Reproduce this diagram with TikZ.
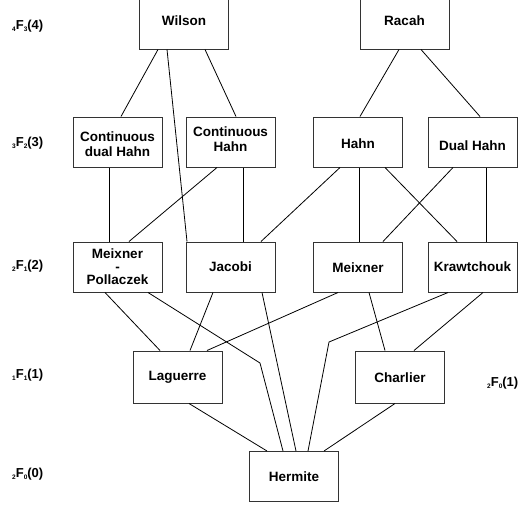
\documentclass[tikz,border=0pt]{standalone}
\usepackage{fontspec}
\setmainfont{Liberation Sans}
\begin{document}
\begin{tikzpicture}[x=1pt,y=-1pt,
  famb/.style={draw=black!80,line width=1pt,minimum width=89pt,minimum height=50pt,inner sep=0pt,align=center,
    font=\fontsize{13.5}{15}\selectfont\bfseries},
  topb/.style={famb,minimum height=56pt},
  lowb/.style={famb,minimum height=52pt},
  lvl/.style={anchor=west,inner sep=0pt,font=\fontsize{13}{13}\selectfont\bfseries},
  conn/.style={draw=black,line width=0.8pt}]
\newcommand{\subsc}[1]{\raisebox{-2pt}{\fontsize{6.5}{6.5}\selectfont #1}}
\newcommand{\twolines}[2]{\begin{tabular}{@{}c@{}}#1\\#2\end{tabular}}
\newcommand{\vshift}[2]{\raisebox{#1}[\height][\depth]{#2}}
\clip (0,0) rectangle (522,507);
\fill[white] (0,0) rectangle (522,507);
% boxes
\node[topb] (wilson) at (184,21) {Wilson};
\node[topb] (racah) at (404.5,21) {Racah};
\node[famb] (cdh) at (117.5,142) {\vshift{-4pt}{\twolines{Continuous}{dual Hahn}}};
\node[famb] (ch) at (230.5,142) {\vshift{1pt}{\twolines{Continuous}{Hahn}}};
\node[famb] (hahn) at (358,142) {\vshift{-2pt}{Hahn}};
\node[famb] (dhahn) at (472.5,142) {\vshift{-4pt}{Dual Hahn}};
\node[famb,font=\fontsize{13.5}{13}\selectfont\bfseries] (mp) at (117.5,267) {Meixner\\-\\Pollaczek};
\node[famb] (jacobi) at (230.5,267) {Jacobi};
\node[famb] (meixner) at (358,267) {\vshift{-1pt}{Meixner}};
\node[famb] (kraw) at (472.5,267) {Krawtchouk};
\node[lowb] (laguerre) at (177.5,377) {Laguerre};
\node[lowb] (charlier) at (400,377) {\vshift{-1pt}{Charlier}};
\node[famb] (hermite) at (294,476.5) {Hermite};
% level labels
\node[lvl] (l4) at (12,26) {\subsc{4}F\subsc{3}(4)};
\node[lvl] (l3) at (12,143) {\subsc{3}F\subsc{2}(3)};
\node[lvl] (l2) at (12,266) {\subsc{2}F\subsc{1}(2)};
\node[lvl] (l1) at (12,375) {\subsc{1}F\subsc{1}(1)};
\node[lvl] (l0) at (12,474) {\subsc{2}F\subsc{0}(0)};
\node[lvl] (l01) at (487,383) {\subsc{2}F\subsc{0}(1)};
% bend points
\coordinate (bendA) at (260,363);
\coordinate (bendB) at (329,342);
% connectors
\draw[conn] ([xshift=-26pt]wilson.south) -- ([xshift=3.5pt]cdh.north);
\draw[conn] ([xshift=-17pt]wilson.south) -- ([xshift=-43.5pt]jacobi.north);
\draw[conn] ([xshift=21pt]wilson.south) -- ([xshift=5.5pt]ch.north);
\draw[conn] ([xshift=-5.5pt]racah.south) -- ([xshift=2pt]hahn.north);
\draw[conn] ([xshift=16.5pt]racah.south) -- ([xshift=7.5pt]dhahn.north);
\draw[conn] ([xshift=-8.5pt]cdh.south) -- ([xshift=-8.5pt]mp.north);
\draw[conn] ([xshift=-13.5pt]ch.south) -- ([xshift=11.5pt]mp.north);
\draw[conn] ([xshift=12.5pt]ch.south) -- ([xshift=12.5pt]jacobi.north);
\draw[conn] ([xshift=-18pt]hahn.south) -- ([xshift=30.5pt]jacobi.north);
\draw[conn] ([xshift=1pt]hahn.south) -- ([xshift=1pt]meixner.north);
\draw[conn] ([xshift=27pt]hahn.south) -- ([xshift=-15.5pt]kraw.north);
\draw[conn] ([xshift=-19.5pt]dhahn.south) -- ([xshift=25pt]meixner.north);
\draw[conn] ([xshift=13.5pt]dhahn.south) -- ([xshift=13.5pt]kraw.north);
\draw[conn] ([xshift=-12.5pt]mp.south) -- ([xshift=-17.5pt]laguerre.north);
\draw[conn] ([xshift=30.5pt]mp.south) -- (bendA) -- ([xshift=-11pt]hermite.north);
\draw[conn] ([xshift=-17.5pt]jacobi.south) -- ([xshift=12.5pt]laguerre.north);
\draw[conn] ([xshift=31.5pt]jacobi.south) -- ([xshift=2pt]hermite.north);
\draw[conn] ([xshift=-20pt]meixner.south) -- ([xshift=29.5pt]laguerre.north);
\draw[conn] ([xshift=11pt]meixner.south) -- ([xshift=-15pt]charlier.north);
\draw[conn] ([xshift=-24.5pt]kraw.south) -- (bendB) -- ([xshift=14pt]hermite.north);
\draw[conn] ([xshift=10.5pt]kraw.south) -- ([xshift=14pt]charlier.north);
\draw[conn] ([xshift=11.5pt]laguerre.south) -- ([xshift=-27pt]hermite.north);
\draw[conn] ([xshift=-5pt]charlier.south) -- ([xshift=30pt]hermite.north);
\end{tikzpicture}
\end{document}
